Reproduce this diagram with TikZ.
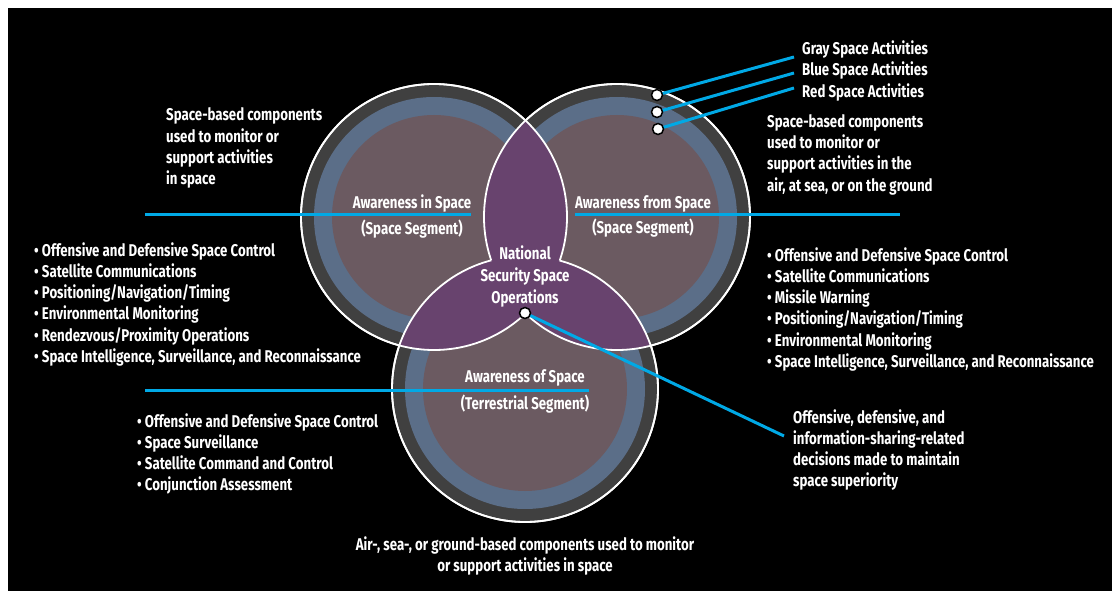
\documentclass[tikz,border=0pt]{standalone}
\usepackage{fontspec}
\setmainfont{Fira Sans}[FakeStretch=0.78]
\definecolor{ringgray}{HTML}{404040}
\definecolor{ringblue}{HTML}{5B6E88}
\definecolor{mauve}{HTML}{6B5A61}
\definecolor{purp}{HTML}{68436E}
\definecolor{cyanline}{HTML}{00A9E6}
\begin{document}
\begin{tikzpicture}[x=1pt,y=1pt,
  txt/.style={text=white, font=\bfseries\fontsize{17}{21.2}\selectfont, inner sep=0pt, execute at begin node=\strut},
  para/.style={txt, anchor=north west, align=left},
  ttl/.style={text=white, font=\bfseries\fontsize{17}{21.2}\selectfont, inner sep=0pt, anchor=base},
  bl/.style={draw=cyanline, line width=3pt},
  dotn/.style={circle, fill=white, draw=black, line width=1.5pt, minimum size=11pt, inner sep=0pt},
  wline/.style={draw=white, line width=1.8pt}]
\def\R{133}
\useasboundingbox (0,0) rectangle (1112,-591);
\fill[white] (0,0) rectangle (1112,-591);
\fill[black] (8,-8) rectangle (1112,-591);
% centres
\coordinate (A) at (434,-217);
\coordinate (B) at (617,-217);
\coordinate (C) at (525,-389);
% circle layers
\foreach \c in {A,B,C}{
  \fill[ringgray] (\c) circle[radius=\R];
  \fill[ringblue] (\c) circle[radius=120];
  \fill[mauve] (\c) circle[radius=102];
}
% purple pairwise intersections
\begin{scope}
  \clip (A) circle[radius=\R];
  \fill[purp] (B) circle[radius=\R];
  \fill[purp] (C) circle[radius=\R];
\end{scope}
\begin{scope}
  \clip (B) circle[radius=\R];
  \fill[purp] (C) circle[radius=\R];
\end{scope}
% white outlines, hidden where inside both other circles
\foreach \x/\y in {A/B,A/C,B/A,B/C,C/A,C/B}{
  \begin{scope}
    \clip (-20,20) -- (1200,20) -- (1200,-700) -- (-20,-700) -- cycle
          ([xshift=\R pt]\y) arc[start angle=0, end angle=360, radius=\R] -- cycle;
    \draw[wline] (\x) circle[radius=\R];
  \end{scope}
}
% connector end points
\coordinate (lA) at (145,-215);
\coordinate (rA) at (471,-215);
\coordinate (lB) at (575,-215);
\coordinate (rB) at (900,-215);
\coordinate (lC) at (145,-390);
\coordinate (rC) at (589,-390);
\coordinate (pN) at (525,-313);
\coordinate (eN) at (784,-436);
\coordinate (p1) at (657,-95);
\coordinate (p2) at (657,-112);
\coordinate (p3) at (658,-129);
\coordinate (e1) at (794,-57);
\coordinate (e2) at (794,-73);
\coordinate (e3) at (794,-88);
\draw[bl] (lA) -- (rA);
\draw[bl] (lB) -- (rB);
\draw[bl] (lC) -- (rC);
\draw[bl] (pN) -- (eN);
\draw[bl] (p1) -- (e1);
\draw[bl] (p2) -- (e2);
\draw[bl] (p3) -- (e3);
\node[dotn] (dN) at (pN) {};
\node[dotn] (d1) at (p1) {};
\node[dotn] (d2) at (p2) {};
\node[dotn] (d3) at (p3) {};
% titles
\node[ttl] (tA1) at (412,-208.5) {Awareness in Space};
\node[ttl] (tA2) at (412,-234.5) {(Space Segment)};
\node[ttl] (tB1) at (643,-208.5) {Awareness from Space};
\node[ttl] (tB2) at (643,-233.5) {(Space Segment)};
\node[ttl] (tC1) at (525,-382.5) {Awareness of Space};
\node[ttl] (tC2) at (525,-409.5) {(Terrestrial Segment)};
\node[txt, anchor=north, align=center, font=\bfseries\fontsize{17}{22}\selectfont] (nsso) at (525,-246)
  {National\\Security Space\\Operations};
% paragraphs
\node[para] (ptl) at (166,-107.8) {Space-based components\\used to monitor or\\support activities\\in space};
\node[para] (ptr) at (767,-114.3) {Space-based components\\used to monitor or\\support activities in the\\air, at sea, or on the ground};
\node[para, font=\bfseries\fontsize{17}{21.5}\selectfont] (pcol) at (802,-40.3) {Gray Space Activities\\Blue Space Activities\\Red Space Activities};
\node[para] (lbul) at (34,-242.3) {\textbullet~Offensive and Defensive Space Control\\\textbullet~Satellite Communications\\\textbullet~Positioning/Navigation/Timing\\\textbullet~Environmental Monitoring\\\textbullet~Rendezvous/Proximity Operations\\\textbullet~Space Intelligence, Surveillance, and Reconnaissance};
\node[para] (rbul) at (767,-247.3) {\textbullet~Offensive and Defensive Space Control\\\textbullet~Satellite Communications\\\textbullet~Missile Warning\\\textbullet~Positioning/Navigation/Timing\\\textbullet~Environmental Monitoring\\\textbullet~Space Intelligence, Surveillance, and Reconnaissance};
\node[para] (bbul) at (137,-413.3) {\textbullet~Offensive and Defensive Space Control\\\textbullet~Space Surveillance\\\textbullet~Satellite Command and Control\\\textbullet~Conjunction Assessment};
\node[para] (pbr) at (793,-409.3) {Offensive, defensive, and\\information-sharing-related\\decisions made to maintain\\space superiority};
\node[txt, anchor=north, align=center] (pbot) at (525,-536.3) {Air-, sea-, or ground-based components used to monitor\\or support activities in space};
\end{tikzpicture}
\end{document}
